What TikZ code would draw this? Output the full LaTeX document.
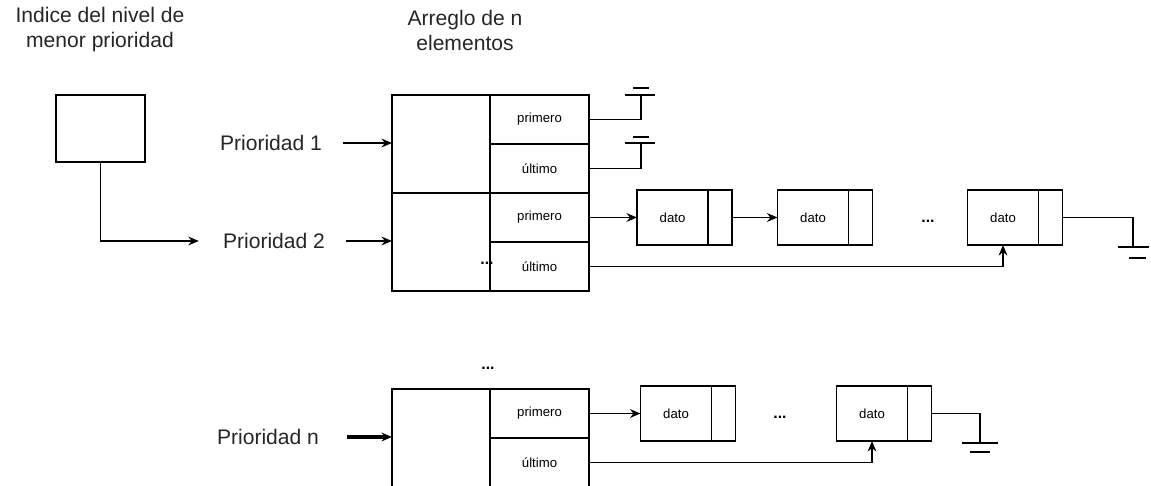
\documentclass[tikz,border=0pt]{standalone}
\usepackage{fontspec}
\setmainfont{Liberation Sans}
\usetikzlibrary{arrows.meta,positioning,calc}

\begin{document}
\begin{tikzpicture}[
    x=0.02cm, y=-0.02cm,
    txt/.style={font=\fontsize{12}{14.2}\selectfont, align=center, text=black!85},
    cell/.style={draw, rectangle, line width=0.9pt, outer sep=0pt, inner sep=0pt, minimum width=1.98cm, minimum height=0.98cm, font=\fontsize{7.5}{9}\selectfont},
    half/.style={draw, rectangle, line width=0.9pt, outer sep=0pt, inner sep=0pt, minimum width=1.96cm, minimum height=1.96cm},
    dato/.style={draw, rectangle, line width=0.9pt, outer sep=0pt, inner sep=0pt, minimum width=1.42cm, minimum height=1.1cm, font=\fontsize{7.5}{9}\selectfont},
    ptr/.style={draw, rectangle, line width=0.9pt, outer sep=0pt, inner sep=0pt, minimum width=0.48cm, minimum height=1.1cm},
    etc/.style={font=\fontsize{9}{10}\selectfont\bfseries, inner sep=0pt},
    edge/.style={-{Stealth[length=6pt,width=5pt]}, line width=0.8pt},
    wire/.style={line width=0.8pt},
]

\useasboundingbox (0,0) rectangle (1151,486);
\clip (0,0) rectangle (1151,486);

% Titles
\node[txt] (tind) at (100,30) {Indice del nivel de\\menor prioridad};
\node[txt] (tarr) at (465,30) {Arreglo de n\\elementos};

% Index box
\node[draw, rectangle, line width=0.9pt, minimum width=1.78cm, minimum height=1.34cm] (idx) at (100.5,128.5) {};

% Priority labels
\node[txt] (pr1) at (271,143) {Prioridad 1};
\node[txt] (pr2) at (274,241) {Prioridad 2};
\node[txt] (prn) at (268,437) {Prioridad n};

% Upper array
\node[half] (L1) at (441,144) {};
\node[half] (L2) at (441,242) {};
\node[cell] (p1) at (539.5,119.5) {primero};
\node[cell] (u1) at (539.5,168.5) {último};
\node[cell] (p2) at (539.5,217.5) {primero};
\node[cell] (u2) at (539.5,266.5) {último};
\node[etc] (d0) at (487,263) {...};

% Lower array
\node[etc] (d1) at (488,368) {...};
\node[half] (L3) at (441,438) {};
\node[cell] (p3) at (539.5,413.5) {primero};
\node[cell] (u3) at (539.5,462.5) {último};

% List of priority 2
\node[dato] (a1) at (672.5,217.5) {dato};
\node[ptr, right=0pt of a1] (a1p) {};
\node[dato] (a2) at (813,217.5) {dato};
\node[ptr, right=0pt of a2] (a2p) {};
\node[etc] (d2) at (928,221) {...};
\node[dato] (a3) at (1003,217.5) {dato};
\node[ptr, right=0pt of a3] (a3p) {};

% List of priority n
\node[dato] (b1) at (676,413.5) {dato};
\node[ptr, right=0pt of b1] (b1p) {};
\node[etc] (d3) at (780,417) {...};
\node[dato] (b2) at (872,413.5) {dato};
\node[ptr, right=0pt of b2] (b2p) {};

% Grounds
\coordinate (g1) at (641,95);
\coordinate (g2) at (641,143);
\coordinate (g3) at (1133,247);
\coordinate (g4) at (980,443);

\draw[edge] (idx.south) |- (pr2.west) [shorten >=0.36cm];
\draw[edge, shorten <=0.3cm] (pr1.east) -- (L1.west |- pr1.east);
\draw[edge, shorten <=0.3cm] (pr2.east) -- (L2.west |- pr2.east);
\draw[edge, line width=2pt, shorten <=0.44cm] (prn.east) -- (L3.west |- prn.east);

\draw[wire] (p1.east) -| (g1);
\draw[wire] ($(g1)+(-16,0)$) -- ($(g1)+(14,0)$);
\draw[wire] ($(g1)+(-8,-7)$) -- ($(g1)+(8,-7)$);
\draw[wire] (u1.east) -| (g2);
\draw[wire] ($(g2)+(-16,0)$) -- ($(g2)+(14,0)$);
\draw[wire] ($(g2)+(-8,-6)$) -- ($(g2)+(8,-6)$);

\draw[edge] (p2.east) -- (a1.west);
\draw[edge] (a1p.east) -- (a2.west);
\draw[edge] (u2.east) -| (a3.south);
\draw[wire] (a3p.east) -| (g3);
\draw[wire] ($(g3)+(-15,0)$) -- ($(g3)+(16,0)$);
\draw[wire] ($(g3)+(-4,11)$) -- ($(g3)+(13,11)$);

\draw[edge] (p3.east) -- (b1.west);
\draw[edge] (u3.east) -| (b2.south);
\draw[wire] (b2p.east) -| (g4);
\draw[wire] ($(g4)+(-18,0)$) -- ($(g4)+(18,0)$);
\draw[wire] ($(g4)+(-10,9)$) -- ($(g4)+(10,9)$);

\end{tikzpicture}
\end{document}
